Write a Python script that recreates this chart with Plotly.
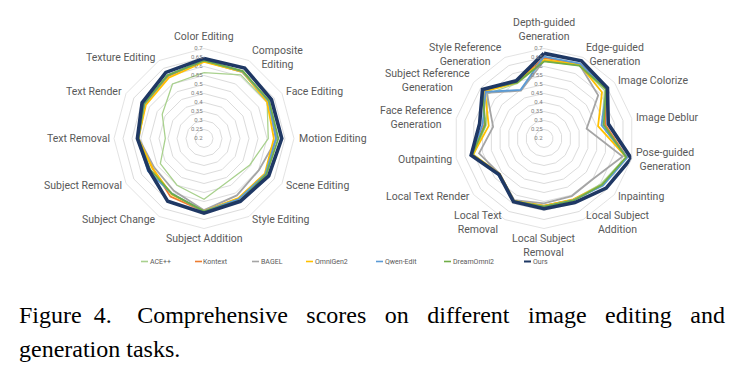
import math
import plotly.graph_objects as go

# ---------------- data ----------------
LEFT_CATS = ["Color Editing", "Composite<br>Editing", "Face Editing", "Motion Editing",
             "Scene Editing", "Style Editing", "Subject Addition", "Subject Change",
             "Subject Removal", "Text Removal", "Text Render", "Texture Editing"]

RIGHT_CATS = ["Depth-guided<br>Generation", "Edge-guided<br>Generation", "Image Colorize",
              "Image Deblur", "Pose-guided<br>Generation", "Inpainting",
              "Local Subject<br>Addition", "Local Subject<br>Removal", "Local Text<br>Removal",
              "Local Text Render", "Outpainting", "Face Reference<br>Generation",
              "Subject Reference<br>Generation", "Style Reference<br>Generation"]

SERIES = ["ACE++", "Kontext", "BAGEL", "OmniGen2", "Qwen-Edit", "DreamOmni2", "Ours"]
COLORS = ["#A9D18E", "#ED7D31", "#A5A5A5", "#FFC000", "#5B9BD5", "#70AD47", "#1F3864"]

ace_left      = [0.566, 0.608, 0.605, 0.557, 0.494, 0.473, 0.538, 0.500, 0.480, 0.415, 0.468, 0.550]
kontext_left  = [0.632, 0.630, 0.615, 0.600, 0.595, 0.585, 0.605, 0.573, 0.530, 0.565, 0.580, 0.600]
bagel_left    = [0.630, 0.625, 0.612, 0.605, 0.552, 0.565, 0.598, 0.535, 0.520, 0.562, 0.580, 0.605]
omni_left     = [0.625, 0.628, 0.605, 0.588, 0.590, 0.582, 0.603, 0.560, 0.530, 0.565, 0.573, 0.590]
qwen_left     = [0.635, 0.630, 0.615, 0.600, 0.595, 0.588, 0.605, 0.555, 0.560, 0.568, 0.583, 0.605]
dream_left    = [0.632, 0.632, 0.618, 0.613, 0.600, 0.598, 0.605, 0.555, 0.545, 0.565, 0.585, 0.605]
ours_left     = [0.645, 0.652, 0.633, 0.632, 0.615, 0.603, 0.615, 0.603, 0.553, 0.570, 0.597, 0.624]

ace_right     = [0.630, 0.650, 0.630, 0.530, 0.665, 0.605, 0.575, 0.572, 0.583, 0.515, 0.600, 0.530, 0.600, 0.540]
kontext_right = [0.648, 0.660, 0.640, 0.548, 0.672, 0.615, 0.578, 0.575, 0.585, 0.515, 0.608, 0.540, 0.625, 0.550]
bagel_right   = [0.632, 0.655, 0.585, 0.443, 0.648, 0.555, 0.555, 0.560, 0.580, 0.515, 0.570, 0.490, 0.606, 0.495]
omni_right    = [0.637, 0.656, 0.612, 0.508, 0.670, 0.615, 0.575, 0.575, 0.585, 0.515, 0.605, 0.515, 0.620, 0.545]
qwen_right    = [0.655, 0.662, 0.645, 0.528, 0.675, 0.620, 0.580, 0.578, 0.588, 0.525, 0.612, 0.550, 0.615, 0.500]
dream_right   = [0.628, 0.650, 0.640, 0.540, 0.668, 0.612, 0.582, 0.578, 0.586, 0.518, 0.610, 0.535, 0.637, 0.545]
ours_right    = [0.673, 0.679, 0.651, 0.566, 0.697, 0.642, 0.595, 0.590, 0.590, 0.520, 0.615, 0.567, 0.637, 0.556]

LEFT_VALUES = [ace_left, kontext_left, bagel_left, omni_left, qwen_left, dream_left, ours_left]
RIGHT_VALUES = [ace_right, kontext_right, bagel_right, omni_right, qwen_right, dream_right, ours_right]
WIDTHS = [1.3, 1.8, 1.8, 1.8, 1.8, 1.8, 3.6]

CAPTION_A = "Figure 4."
CAPTION_B = "Comprehensive scores on different image editing and"
CAPTION_2 = "generation tasks."

# ---------------- figure ----------------
W, H = 740, 377
fig = go.Figure()

def closed(lst):
    return list(lst) + [lst[0]]

for i, name in enumerate(SERIES):
    fig.add_trace(go.Scatterpolar(
        r=closed(LEFT_VALUES[i]), theta=closed(LEFT_CATS), mode="lines", name=name,
        line=dict(color=COLORS[i], width=WIDTHS[i]), subplot="polar", showlegend=False))
for i, name in enumerate(SERIES):
    fig.add_trace(go.Scatterpolar(
        r=closed(RIGHT_VALUES[i]), theta=closed(RIGHT_CATS), mode="lines", name=name,
        line=dict(color=COLORS[i], width=WIDTHS[i]), subplot="polar2", showlegend=False))

FONT = "Roboto"
GRID = "#dcdcdc"
R_PX = 90          # outer radius of each radar, px
CY = 138.5         # vertical centre of both radars, px
LEFT_CX, RIGHT_CX = 204, 544

def polar_cfg(cx):
    return dict(
        domain=dict(x=[(cx - R_PX) / W, (cx + R_PX) / W],
                    y=[1 - (CY + R_PX) / H, 1 - (CY - R_PX) / H]),
        bgcolor="white",
        gridshape="linear",
        radialaxis=dict(range=[0.2, 0.7], tick0=0.2, dtick=0.05, angle=90, tickangle=90,
                        showline=False, gridcolor=GRID, gridwidth=0.8, ticks="",
                        side="counterclockwise",
                        tickfont=dict(family=FONT, size=6, color="#808080")),
        angularaxis=dict(rotation=90, direction="clockwise", showgrid=False,
                         showline=True, linecolor=GRID, linewidth=0.8, ticks="",
                         showticklabels=False),
    )

annotations = []

# category labels placed Excel-style around each radar
def add_cat_labels(cats, cx):
    n = len(cats)
    for i, lab in enumerate(cats):
        a = 2 * math.pi * i / n
        s, c = math.sin(a), math.cos(a)
        if abs(s) < 0.05:
            x = cx
            y = CY - (R_PX + (4 if c > 0 else 2.5)) * (1 if c > 0 else -1)
            xa, ya = "center", ("bottom" if c > 0 else "top")
        else:
            x = cx + (R_PX + 3.5) * s
            y = CY - (R_PX + 3.5) * c
            xa, ya = ("left" if s > 0 else "right"), "middle"
        annotations.append(dict(text=lab, x=x / W, y=1 - y / H, xref="paper", yref="paper",
                                xanchor=xa, yanchor=ya, align="center", showarrow=False,
                                borderpad=0,
                                font=dict(family=FONT, size=10.5, color="#595959")))

add_cat_labels(LEFT_CATS, LEFT_CX)
add_cat_labels(RIGHT_CATS, RIGHT_CX)

# custom compact legend (short line keys like the original)
LEG_X = [141, 195, 252, 306, 376, 444, 524]
LEG_Y = 261.5
shapes = []
for i, name in enumerate(SERIES):
    shapes.append(dict(type="line", xref="paper", yref="paper",
                       x0=LEG_X[i] / W, x1=(LEG_X[i] + 7) / W,
                       y0=1 - LEG_Y / H, y1=1 - LEG_Y / H,
                       line=dict(color=COLORS[i], width=2 if i == 6 else 1.6)))
    annotations.append(dict(text=name, x=(LEG_X[i] + 7.5) / W, y=1 - LEG_Y / H,
                            xref="paper", yref="paper", xanchor="left", yanchor="middle",
                            showarrow=False, borderpad=0,
                            font=dict(family=FONT, size=7, color="#595959")))

caption_1 = ("<span style='word-spacing:6px'>" + CAPTION_A + "</span>"
             "<span style='word-spacing:6.75px'>  </span>"
             "<span style='word-spacing:12.5px'>" + CAPTION_B + "</span>")
annotations += [
    dict(text=caption_1, x=17 / W, y=1 - 315 / H, xref="paper", yref="paper",
         xanchor="left", yanchor="middle", showarrow=False,
         font=dict(family="Liberation Serif", size=24, color="black")),
    dict(text=CAPTION_2, x=17 / W, y=1 - 349 / H, xref="paper", yref="paper",
         xanchor="left", yanchor="middle", showarrow=False,
         font=dict(family="Liberation Serif", size=24, color="black")),
]

fig.update_layout(
    width=W, height=H,
    margin=dict(l=0, r=0, t=0, b=0),
    paper_bgcolor="white",
    plot_bgcolor="white",
    polar=polar_cfg(LEFT_CX),
    polar2=polar_cfg(RIGHT_CX),
    showlegend=False,
    shapes=shapes,
    annotations=annotations,
)

fig.write_html("out.html")
